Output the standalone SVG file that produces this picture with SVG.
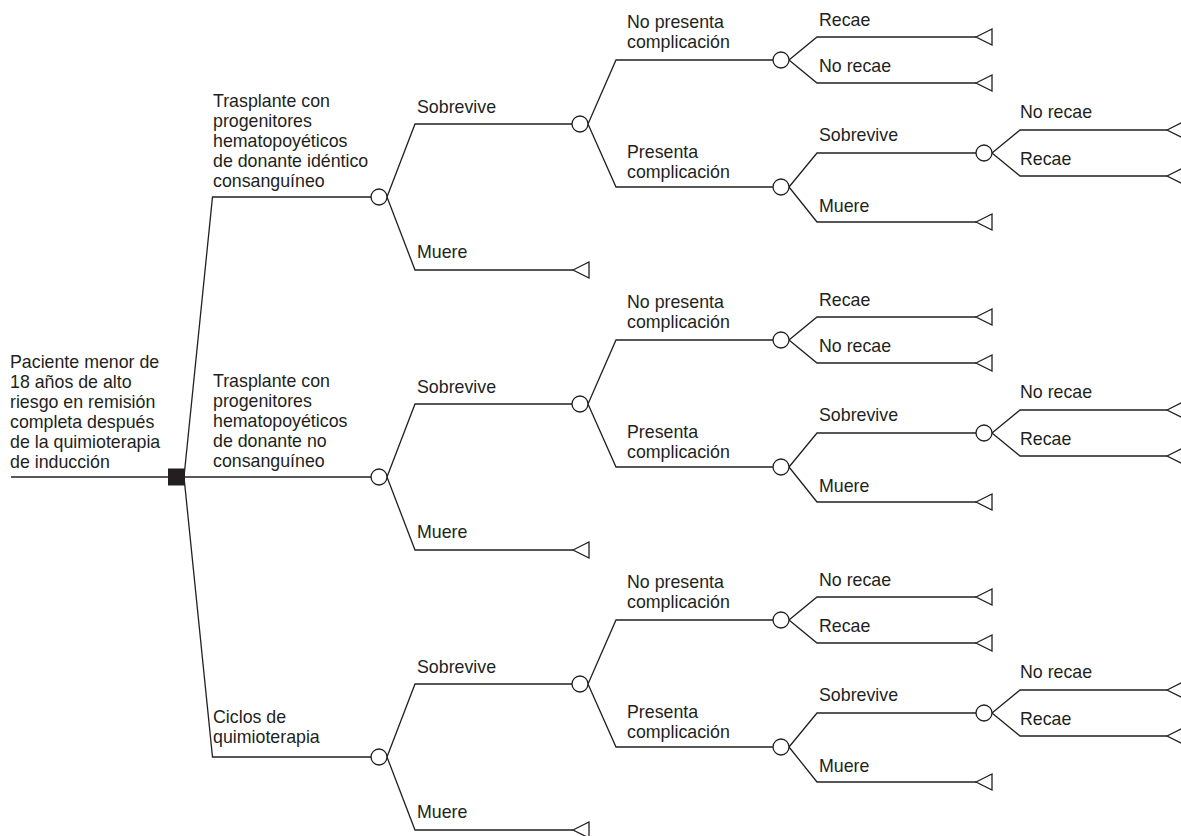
<svg xmlns="http://www.w3.org/2000/svg" xmlns:xlink="http://www.w3.org/1999/xlink" width="1181" height="836" viewBox="0 0 1181 836">
<style>
  .bg { fill: #ffffff; }
  .ln { fill: none; stroke: #231f20; stroke-width: 1.3; }
  .nd { fill: #ffffff; stroke: #231f20; stroke-width: 1.3; }
  .dec { fill: #231f20; stroke: none; }
  text { font-family: "Liberation Sans", Arial, Helvetica, sans-serif; font-size: 17.8px; fill: #231f20; }
</style>
<defs>
  <circle id="chance" cx="0" cy="0" r="8" class="nd"/>
  <polygon id="term" points="0,0 16,-8 16,8" class="nd"/>
</defs>
<rect class="bg" x="0" y="0" width="1181" height="836"/>

<g id="connectors">
  <!-- root -->
  <path class="ln" d="M11 477 H168"/>
  <path class="ln" d="M184 477 L212.5 197 H371"/>
  <path class="ln" d="M185 477 H371"/>
  <path class="ln" d="M184 477 L212.5 757 H371"/>
  <!-- tree 1 -->
  <path class="ln" d="M387 197 L415 124 H572"/>
  <path class="ln" d="M387 197 L415 270 H573"/>
  <path class="ln" d="M588 124 L616 60 H773"/>
  <path class="ln" d="M588 124 L616 187 H773"/>
  <path class="ln" d="M789 60 L817 37 H976"/>
  <path class="ln" d="M789 60 L817 83 H976"/>
  <path class="ln" d="M789 187 L817 153 H976"/>
  <path class="ln" d="M789 187 L817 222 H976"/>
  <path class="ln" d="M992 153 L1020 130 H1167"/>
  <path class="ln" d="M992 153 L1020 176 H1167"/>
  <!-- tree 2 -->
  <path class="ln" d="M387 477 L415 404 H572"/>
  <path class="ln" d="M387 477 L415 550 H573"/>
  <path class="ln" d="M588 404 L616 340 H773"/>
  <path class="ln" d="M588 404 L616 467 H773"/>
  <path class="ln" d="M789 340 L817 317 H976"/>
  <path class="ln" d="M789 340 L817 363 H976"/>
  <path class="ln" d="M789 467 L817 433 H976"/>
  <path class="ln" d="M789 467 L817 502 H976"/>
  <path class="ln" d="M992 433 L1020 410 H1167"/>
  <path class="ln" d="M992 433 L1020 456 H1167"/>
  <!-- tree 3 -->
  <path class="ln" d="M387 757 L415 684 H572"/>
  <path class="ln" d="M387 757 L415 830 H573"/>
  <path class="ln" d="M588 684 L616 620 H773"/>
  <path class="ln" d="M588 684 L616 747 H773"/>
  <path class="ln" d="M789 620 L817 597 H976"/>
  <path class="ln" d="M789 620 L817 643 H976"/>
  <path class="ln" d="M789 747 L817 713 H976"/>
  <path class="ln" d="M789 747 L817 782 H976"/>
  <path class="ln" d="M992 713 L1020 690 H1167"/>
  <path class="ln" d="M992 713 L1020 736 H1167"/>
</g>

<g id="edge-labels">
  <!-- tree 1 -->
  <text x="213" y="107">Trasplante con</text>
  <text x="213" y="127">progenitores</text>
  <text x="213" y="147">hematopoyéticos</text>
  <text x="213" y="167">de donante idéntico</text>
  <text x="213" y="187">consanguíneo</text>
  <text x="417" y="113">Sobrevive</text>
  <text x="417" y="258">Muere</text>
  <text x="627" y="28">No presenta</text>
  <text x="627" y="48">complicación</text>
  <text x="627" y="158">Presenta</text>
  <text x="627" y="178">complicación</text>
  <text x="819" y="26">Recae</text>
  <text x="819" y="72">No recae</text>
  <text x="819" y="141">Sobrevive</text>
  <text x="819" y="212">Muere</text>
  <text x="1020" y="118">No recae</text>
  <text x="1020" y="165">Recae</text>
  <!-- tree 2 -->
  <text x="213" y="387">Trasplante con</text>
  <text x="213" y="407">progenitores</text>
  <text x="213" y="427">hematopoyéticos</text>
  <text x="213" y="447">de donante no</text>
  <text x="213" y="467">consanguíneo</text>
  <text x="417" y="393">Sobrevive</text>
  <text x="417" y="538">Muere</text>
  <text x="627" y="308">No presenta</text>
  <text x="627" y="328">complicación</text>
  <text x="627" y="438">Presenta</text>
  <text x="627" y="458">complicación</text>
  <text x="819" y="306">Recae</text>
  <text x="819" y="352">No recae</text>
  <text x="819" y="421">Sobrevive</text>
  <text x="819" y="492">Muere</text>
  <text x="1020" y="398">No recae</text>
  <text x="1020" y="445">Recae</text>
  <!-- tree 3 -->
  <text x="213" y="723">Ciclos de</text>
  <text x="213" y="743">quimioterapia</text>
  <text x="417" y="673">Sobrevive</text>
  <text x="417" y="818">Muere</text>
  <text x="627" y="588">No presenta</text>
  <text x="627" y="608">complicación</text>
  <text x="627" y="718">Presenta</text>
  <text x="627" y="738">complicación</text>
  <text x="819" y="586">No recae</text>
  <text x="819" y="632">Recae</text>
  <text x="819" y="701">Sobrevive</text>
  <text x="819" y="772">Muere</text>
  <text x="1020" y="678">No recae</text>
  <text x="1020" y="725">Recae</text>
</g>

<g id="root">
  <rect class="dec" x="168" y="468.5" width="17" height="17"/>
  <text x="10" y="368">Paciente menor de</text>
  <text x="10" y="388">18 años de alto</text>
  <text x="10" y="408">riesgo en remisión</text>
  <text x="10" y="428">completa después</text>
  <text x="10" y="448">de la quimioterapia</text>
  <text x="10" y="468">de inducción</text>
</g>

<!-- tree 1 nodes -->
<g id="t1-c1"><use xlink:href="#chance" x="379" y="197"/></g>
<g id="t1-c2"><use xlink:href="#chance" x="580" y="124"/></g>
<g id="t1-c3"><use xlink:href="#chance" x="781" y="60"/></g>
<g id="t1-c4"><use xlink:href="#chance" x="781" y="187"/></g>
<g id="t1-c5"><use xlink:href="#chance" x="984" y="153"/></g>
<g id="t1-e1"><use xlink:href="#term" x="573" y="270"/></g>
<g id="t1-e2"><use xlink:href="#term" x="976" y="37"/></g>
<g id="t1-e3"><use xlink:href="#term" x="976" y="83"/></g>
<g id="t1-e4"><use xlink:href="#term" x="976" y="222"/></g>
<g id="t1-e5"><use xlink:href="#term" x="1167" y="130"/></g>
<g id="t1-e6"><use xlink:href="#term" x="1167" y="176"/></g>

<!-- tree 2 nodes -->
<g id="t2-c1"><use xlink:href="#chance" x="379" y="477"/></g>
<g id="t2-c2"><use xlink:href="#chance" x="580" y="404"/></g>
<g id="t2-c3"><use xlink:href="#chance" x="781" y="340"/></g>
<g id="t2-c4"><use xlink:href="#chance" x="781" y="467"/></g>
<g id="t2-c5"><use xlink:href="#chance" x="984" y="433"/></g>
<g id="t2-e1"><use xlink:href="#term" x="573" y="550"/></g>
<g id="t2-e2"><use xlink:href="#term" x="976" y="317"/></g>
<g id="t2-e3"><use xlink:href="#term" x="976" y="363"/></g>
<g id="t2-e4"><use xlink:href="#term" x="976" y="502"/></g>
<g id="t2-e5"><use xlink:href="#term" x="1167" y="410"/></g>
<g id="t2-e6"><use xlink:href="#term" x="1167" y="456"/></g>

<!-- tree 3 nodes -->
<g id="t3-c1"><use xlink:href="#chance" x="379" y="757"/></g>
<g id="t3-c2"><use xlink:href="#chance" x="580" y="684"/></g>
<g id="t3-c3"><use xlink:href="#chance" x="781" y="620"/></g>
<g id="t3-c4"><use xlink:href="#chance" x="781" y="747"/></g>
<g id="t3-c5"><use xlink:href="#chance" x="984" y="713"/></g>
<g id="t3-e1"><use xlink:href="#term" x="573" y="830"/></g>
<g id="t3-e2"><use xlink:href="#term" x="976" y="597"/></g>
<g id="t3-e3"><use xlink:href="#term" x="976" y="643"/></g>
<g id="t3-e4"><use xlink:href="#term" x="976" y="782"/></g>
<g id="t3-e5"><use xlink:href="#term" x="1167" y="690"/></g>
<g id="t3-e6"><use xlink:href="#term" x="1167" y="736"/></g>
</svg>
